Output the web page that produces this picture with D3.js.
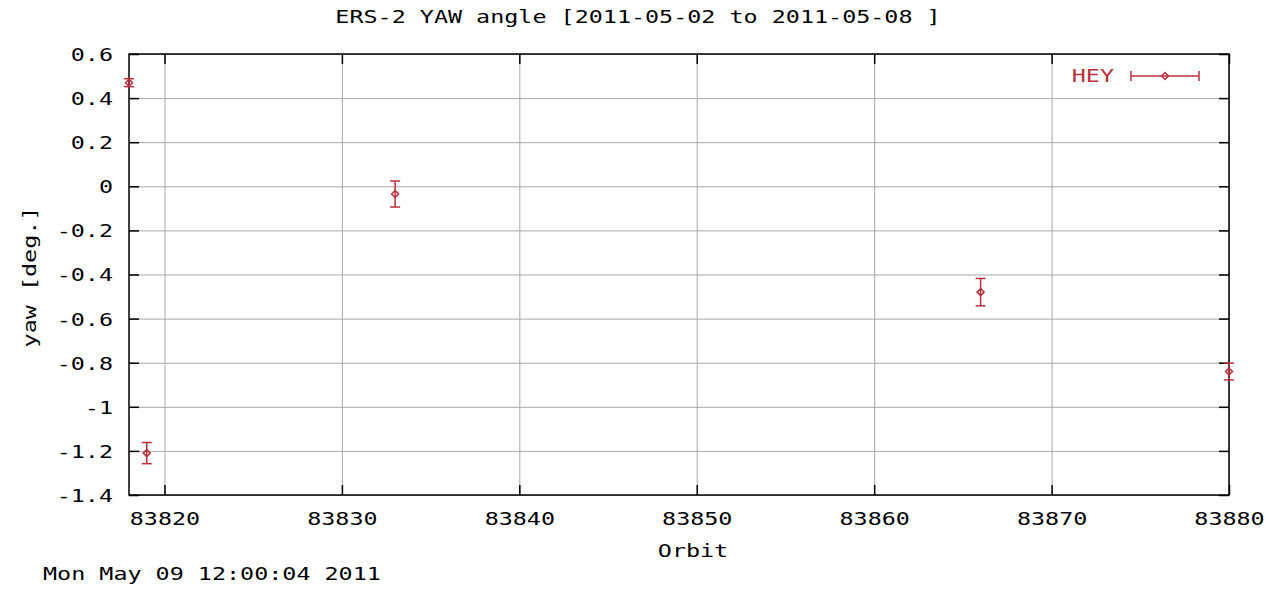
<!DOCTYPE html>
<html>
<head>
<meta charset="utf-8">
<script src="https://cdn.jsdelivr.net/npm/d3@7"></script>
<style>
  body { margin: 0; background: #fff; }
  text { font-family: "DejaVu Sans Mono", monospace; font-size: 18px; fill: #000; }
</style>
</head>
<body>
<svg id="chart" width="1274" height="590"></svg>
<script>
// data
const orbits = [83818, 83819, 83833, 83866, 83880];
const yawValues = [0.47, -1.21, -0.035, -0.48, -0.84];
const yawErrors = [0.018, 0.048, 0.059, 0.062, 0.038];
const xTicks = [83820, 83830, 83840, 83850, 83860, 83870, 83880];
const yTicks = [0.6, 0.4, 0.2, 0, -0.2, -0.4, -0.6, -0.8, -1, -1.2, -1.4];

const titleText = 'ERS-2 YAW angle [2011-05-02 to 2011-05-08 ]';
const stampText = 'Mon May 09 12:00:04 2011';
const seriesName = 'HEY';

const svg = d3.select('#chart');
const margin = { top: 54, right: 45, bottom: 95, left: 129 };
const width = 1274 - margin.left - margin.right;
const height = 590 - margin.top - margin.bottom;
const red = '#b8303c';
const sx = 1.3; // the gnuplot font is wide, stretch the glyphs

const g = svg.append('g').attr('transform', `translate(${margin.left},${margin.top})`);

const x = d3.scaleLinear().domain([83818, 83880]).range([0, width]);
const y = d3.scaleLinear().domain([-1.4, 0.6]).range([height, 0]);

// grid lines
g.append('g')
    .call(d3.axisBottom(x).tickValues(xTicks).tickSize(height).tickFormat(''))
    .call(s => s.select('.domain').remove())
    .selectAll('line').attr('stroke', '#a8a8a8');
g.append('g')
    .call(d3.axisLeft(y).tickValues(yTicks).tickSize(-width).tickFormat(''))
    .call(s => s.select('.domain').remove())
    .selectAll('line').attr('stroke', '#a8a8a8');

// inward ticks on all four sides
const fmt = v => String(+v.toFixed(1));
const left = g.append('g')
    .call(d3.axisLeft(y).tickValues(yTicks).tickSize(-10).tickFormat(fmt));
const bottom = g.append('g').attr('transform', `translate(0,${height})`)
    .call(d3.axisBottom(x).tickValues(xTicks).tickSize(-10).tickFormat(d3.format('d')));
g.append('g').attr('transform', `translate(${width},0)`)
    .call(d3.axisRight(y).tickValues(yTicks).tickSize(-10).tickFormat(''));
g.append('g')
    .call(d3.axisTop(x).tickValues(xTicks).tickSize(-10).tickFormat(''));

g.selectAll('.domain').remove();
g.selectAll('.tick line').filter(function () { return this.getAttribute('stroke') !== '#a8a8a8'; })
    .attr('stroke', '#000').attr('stroke-width', 1.5);

left.selectAll('text').attr('font-family', null).attr('font-size', null)
    .attr('x', -16 / sx).attr('dy', '0.36em').attr('transform', `scale(${sx},1)`);
bottom.selectAll('text').attr('font-family', null).attr('font-size', null)
    .attr('y', 30).attr('dy', 0).attr('transform', `scale(${sx},1)`);

// border
g.append('rect')
    .attr('width', width).attr('height', height)
    .attr('fill', 'none').attr('stroke', '#000').attr('stroke-width', 1.5);

// error bars
const points = orbits.map((o, i) => ({ orbit: o, yaw: yawValues[i], err: yawErrors[i] }));
const capW = 5;
const diamond = (cx, cy) => `M${cx - 3.5},${cy}L${cx},${cy - 3.5}L${cx + 3.5},${cy}L${cx},${cy + 3.5}Z`;

const pts = g.append('g').attr('stroke', red).attr('stroke-width', 1.5).attr('fill', 'none');
points.forEach(d => {
    const cx = x(d.orbit);
    const y0 = y(d.yaw - d.err), y1 = y(d.yaw + d.err);
    pts.append('line').attr('x1', cx).attr('x2', cx).attr('y1', y0).attr('y2', y1);
    pts.append('line').attr('x1', cx - capW).attr('x2', cx + capW).attr('y1', y0).attr('y2', y0);
    pts.append('line').attr('x1', cx - capW).attr('x2', cx + capW).attr('y1', y1).attr('y2', y1);
    pts.append('path').attr('d', diamond(cx, y(d.yaw)));
});

// legend
const lg = svg.append('g').attr('stroke', red).attr('stroke-width', 1.5).attr('fill', 'none');
const lx0 = 1131, lx1 = 1199, ly = 76;
lg.append('line').attr('x1', lx0).attr('x2', lx1).attr('y1', ly).attr('y2', ly);
lg.append('line').attr('x1', lx0).attr('x2', lx0).attr('y1', ly - 5).attr('y2', ly + 5);
lg.append('line').attr('x1', lx1).attr('x2', lx1).attr('y1', ly - 5).attr('y2', ly + 5);
lg.append('path').attr('d', diamond((lx0 + lx1) / 2, ly));

// wide text helper
const label = (px, py, str, anchor, rot = 0) => svg.append('g')
    .attr('transform', `translate(${px},${py}) rotate(${rot}) scale(${sx},1)`)
    .append('text').attr('text-anchor', anchor).text(str);

label(1114, 82, seriesName, 'end').style('fill', red);
label(638, 23, titleText, 'middle');
label(693, 557, 'Orbit', 'middle');
label(36, 277, 'yaw [deg.]', 'middle', -90);
label(43, 580, stampText, 'start');
</script>
</body>
</html>
